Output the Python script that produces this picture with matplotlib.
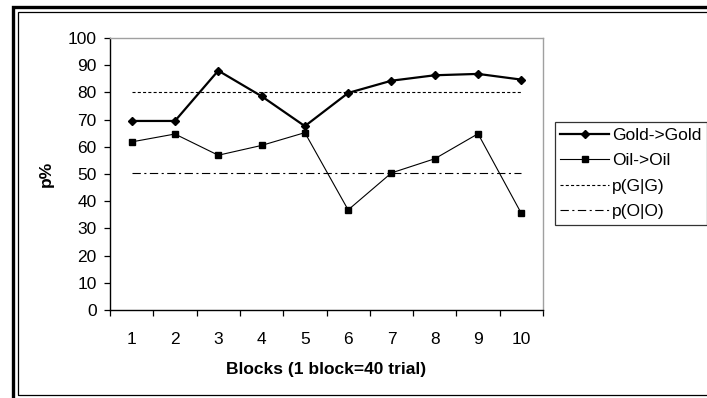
import matplotlib
matplotlib.use("Agg")
import matplotlib.pyplot as plt
from matplotlib.patches import Rectangle
from matplotlib.ticker import FixedLocator

plt.rcParams['font.family'] = ['Liberation Sans', 'DejaVu Sans']
plt.rcParams['lines.scale_dashes'] = False

blocks = [1, 2, 3, 4, 5, 6, 7, 8, 9, 10]
gold_gold = [69.5, 69.5, 88.0, 78.6, 67.6, 79.8, 84.3, 86.3, 86.8, 84.7]
oil_oil = [61.8, 64.7, 56.9, 60.5, 65.2, 36.8, 50.4, 55.6, 64.8, 35.5]
p_gg = [80] * len(blocks)
p_oo = [50.3] * len(blocks)
y_ticks = list(range(0, 101, 10))

W, H = 707, 398
fig = plt.figure(figsize=(W / 100, H / 100), dpi=100)

# double frame around the whole chart
fig.patches.append(Rectangle((13 / W, -0.1), 1.2, 1 - 7 / H + 0.1, transform=fig.transFigure,
                             fill=False, edgecolor='black', linewidth=2.4))
fig.patches.append(Rectangle((17.5 / W, 1 - 395 / H), 1.2, (395 - 12) / H, transform=fig.transFigure,
                             fill=False, edgecolor='black', linewidth=0.9))

ax = fig.add_axes([110 / W, 1 - 310 / H, (543 - 110) / W, (310 - 38) / H])

ax.plot(blocks, gold_gold, color='black', linewidth=1.6, marker='D', markersize=4.5,
        label='Gold->Gold')
ax.plot(blocks, oil_oil, color='black', linewidth=0.8, marker='s', markersize=4.5,
        label='Oil->Oil')
ax.plot(blocks, p_gg, color='black', linewidth=0.8, dashes=(2.2, 1.6), label='p(G|G)')
ax.plot(blocks, p_oo, color='black', linewidth=0.8, dashes=(6, 2.5, 1.5, 2.5), label='p(O|O)')

ax.set_xlim(0.5, 10.5)
ax.set_ylim(0, 100)
ax.set_yticks(y_ticks)
ax.set_xticks(blocks)
ax.xaxis.set_minor_locator(FixedLocator([b + 0.5 for b in [0] + blocks]))
ax.tick_params(axis='x', which='major', length=0, pad=15.5, labelsize=12.5)
ax.tick_params(axis='x', which='minor', length=4.5, width=0.9, direction='out')
ax.tick_params(axis='y', length=4.5, width=0.9, pad=5, labelsize=12.5)

for side in ['top', 'right']:
    ax.spines[side].set_color('#a0a0a0')
    ax.spines[side].set_linewidth(1.0)
for side in ['left', 'bottom']:
    ax.spines[side].set_linewidth(1.0)

ax.set_xlabel('Blocks (1 block=40 trial)', fontsize=12.5, fontweight='bold', labelpad=11)
ax.set_ylabel('p%', fontsize=12.5, fontweight='bold', labelpad=10)

leg = fig.legend(loc='center left', bbox_to_anchor=(555 / W, 1 - 173.5 / H),
                 bbox_transform=fig.transFigure, fontsize=12.5, frameon=True,
                 fancybox=False, edgecolor='black', handlelength=2.8, handletextpad=0.2,
                 labelspacing=0.6, borderpad=0.3, borderaxespad=0)
leg.get_frame().set_linewidth(0.9)

fig.savefig('out.png', dpi=100)
